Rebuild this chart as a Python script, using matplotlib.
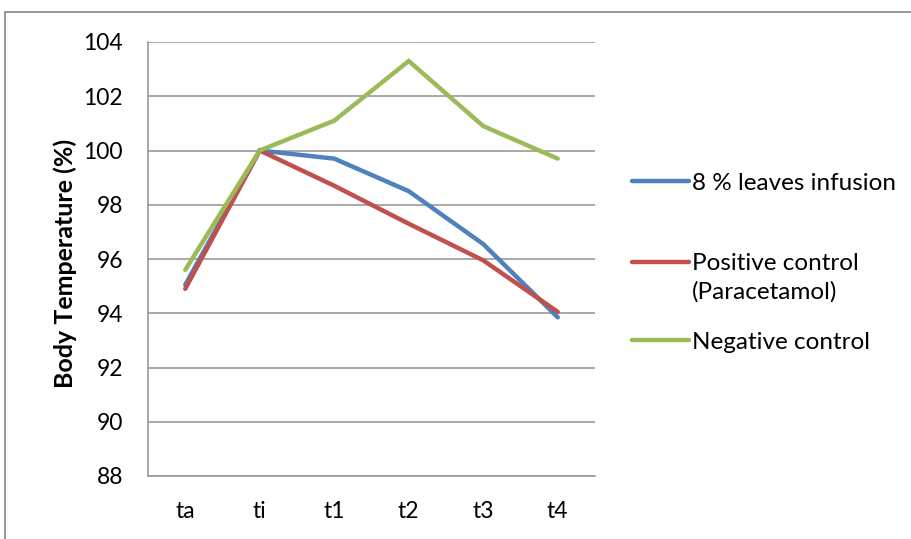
import matplotlib
matplotlib.use("Agg")
import numpy as np
import matplotlib.pyplot as plt
from matplotlib.patches import Rectangle

# Time points and mean body temperature per group
time_points = ["ta", "ti", "t1", "t2", "t3", "t4"]
leaves_infusion = [95.05, 100.0, 99.7, 98.5, 96.55, 93.85]
positive_control = [94.9, 100.0, 98.7, 97.3, 95.95, 94.05]
negative_control = [95.6, 100.0, 101.1, 103.3, 100.9, 99.7]
series_labels = ["8 % leaves infusion", "Positive control\n(Paracetamol)", "Negative control"]
series_colors = ["#4F81BD", "#C0504D", "#9BBB59"]
y_ticks = [88, 90, 92, 94, 96, 98, 100, 102, 104]

plt.rcParams["font.family"] = ["Lato", "DejaVu Sans"]

W, H = 912, 539
fig = plt.figure(figsize=(W / 100, H / 100), dpi=100)

# Chart-area border
fig.patches.append(Rectangle((5 / W, -0.05), 1.05, 1 - 12 / H + 0.05,
                             transform=fig.transFigure, fill=False,
                             edgecolor="#888888", linewidth=1.2))

ax = fig.add_axes([148 / W, 1 - 476 / H, (595 - 148) / W, (476 - 42) / H])

x = np.arange(len(time_points))
lines = []
for vals, lab, col in zip([leaves_infusion, positive_control, negative_control],
                          series_labels, series_colors):
    ln, = ax.plot(x, vals, color=col, linewidth=3.2, label=lab,
                  solid_capstyle="round", solid_joinstyle="miter")
    lines.append(ln)

ax.set_xlim(-0.5, len(time_points) - 0.5)
ax.set_ylim(88, 104)
ax.set_yticks(y_ticks)
ax.set_xticks(x)
ax.set_xticklabels(time_points)
ax.tick_params(axis="y", labelsize=16.5, length=0, pad=18)
ax.tick_params(axis="x", labelsize=16.5, length=0, pad=18)
ax.grid(axis="y", color="#999999", linewidth=1.2)
ax.set_axisbelow(True)
for side in ["top", "right"]:
    ax.spines[side].set_visible(False)
for side in ["left", "bottom"]:
    ax.spines[side].set_color("#999999")
    ax.spines[side].set_linewidth(1.2)

ax.set_ylabel("Body Temperature (%)", fontsize=18, fontweight="bold")
ax.yaxis.set_label_coords((77 - 148) / 447, 0.49)

# One legend entry per series, each placed beside the plot
legend_rows = [183, 278, 342]
for ln, row in zip(lines, legend_rows):
    leg = fig.legend(handles=[ln], labels=[ln.get_label()], loc="center left",
                     bbox_to_anchor=(632 / W, 1 - row / H), frameon=False,
                     fontsize=17.5, handlelength=2.35, handletextpad=0.12,
                     borderpad=0, borderaxespad=0)
    for t in leg.get_texts():
        t.set_linespacing(1.39)
    if "\n" in ln.get_label():
        # keep the handle level with the first line of a two-line label
        h = leg.legend_handles[0]
        h.set_ydata(np.asarray(h.get_ydata()) + 11.5)

fig.savefig("out.png", dpi=100)
